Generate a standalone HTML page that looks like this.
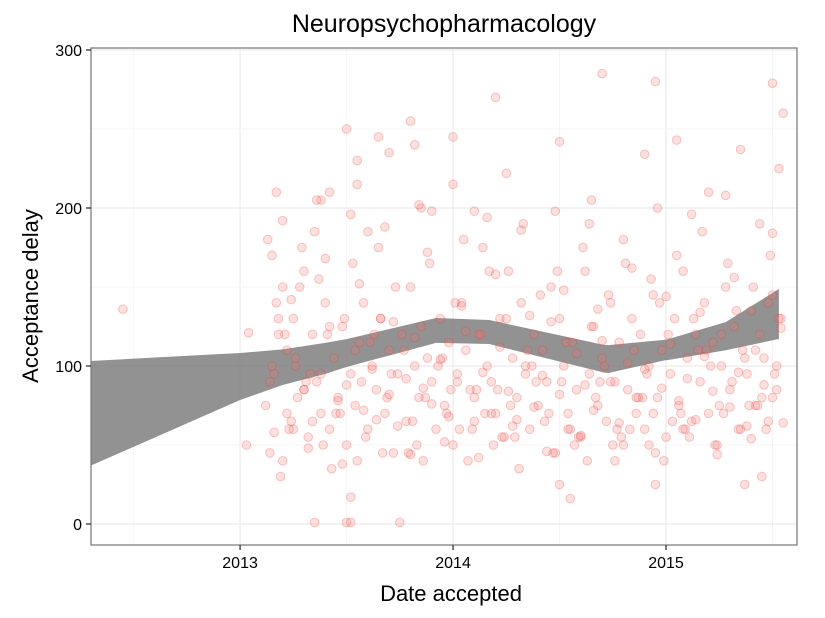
<!DOCTYPE html>
<html><head><meta charset="utf-8"><style>
body{margin:0;background:#fff}
svg{display:block;font-family:"Liberation Sans",sans-serif}
</style></head><body>
<svg id="chart" width="825" height="618">
<rect width="825" height="618" fill="#fff"/>
<text x="444" y="32" font-size="25" text-anchor="middle" fill="#000">Neuropsychopharmacology</text>
<text x="451" y="601" font-size="22" text-anchor="middle">Date accepted</text>
<text transform="translate(38,296) rotate(-90)" font-size="22" text-anchor="middle">Acceptance delay</text>
<g id="grid"></g><g id="ribbon"></g><g id="pts"></g><g id="axes"></g>
</svg>
<script>
const xTicks=[2013,2014,2015];
const yTicks=[0,100,200,300];
const ribX=[2012.30,2013.0,2013.2,2013.4,2013.5,2013.92,2014.17,2014.71,2014.73,2014.99,2015.01,2015.28,2015.53];
const ribUpper=[103.2,108.2,110.5,114.6,117,130.4,129.1,113.3,113.2,116.5,117,127.8,148.7];
const ribLower=[37,78.5,88,95,99.4,114.6,113.9,95.8,95.6,103.5,103.8,110,117.1];
const dates=[2012.45,2013.03,2013.04,2013.15,2013.17,2013.2,2013.25,2013.3,2013.35,2013.38,2013.42,2013.5,2013.55,2013.55,2013.6,2013.65,2013.7,2013.8,2013.82,2013.85,2013.9,2014.0,2014.1,2014.2,2014.25,2014.5,2014.65,2014.7,2014.9,2014.95,2015.05,2015.2,2015.35,2015.5,2015.55,2015.53,2013.35,2013.5,2013.52,2013.75,2013.52,2014.55,2014.5,2015.37,2014.95,2015.45,
2013.12,2013.14,2013.16,2013.18,2013.2,2013.22,2013.24,2013.26,2013.28,2013.3,2013.32,2013.34,2013.36,2013.38,2013.4,2013.42,2013.44,2013.46,2013.48,2013.5,2013.52,2013.54,2013.56,2013.58,2013.6,2013.62,2013.64,2013.66,2013.68,2013.7,2013.72,2013.74,2013.76,2013.78,2013.8,2013.82,2013.84,2013.86,2013.88,2013.9,2013.92,2013.94,2013.96,2013.98,2014.0,2014.02,2014.04,2014.06,2014.08,2014.1,2014.12,2014.14,2014.16,2014.18,2014.2,2014.22,2014.24,2014.26,2014.28,2014.3,2014.32,2014.34,2014.36,2014.38,2014.4,2014.42,2014.44,2014.46,2014.48,2014.5,2014.52,2014.54,2014.56,2014.58,2014.6,2014.62,2014.64,2014.66,2014.68,2014.7,2014.72,2014.74,2014.76,2014.78,2014.8,2014.82,2014.84,2014.86,2014.88,2014.9,2014.92,2014.94,2014.96,2014.98,2015.0,2015.02,2015.04,2015.06,2015.08,2015.1,2015.12,2015.14,2015.16,2015.18,2015.2,2015.22,2015.24,2015.26,2015.28,2015.3,2015.32,2015.34,2015.36,2015.38,2015.4,2015.42,2015.44,2015.46,2015.48,2015.5,2015.52,2015.54,
2013.13,2013.17,2013.21,2013.25,2013.29,2013.33,2013.37,2013.41,2013.45,2013.49,2013.53,2013.57,2013.61,2013.65,2013.69,2013.73,2013.77,2013.81,2013.85,2013.89,2013.93,2013.97,2014.01,2014.05,2014.09,2014.13,2014.17,2014.21,2014.25,2014.29,2014.33,2014.37,2014.41,2014.45,2014.49,2014.53,2014.57,2014.61,2014.65,2014.69,2014.73,2014.77,2014.81,2014.85,2014.89,2014.93,2014.97,2015.01,2015.05,2015.09,2015.13,2015.17,2015.21,2015.25,2015.29,2015.33,2015.37,2015.41,2015.45,2015.49,2015.53,
2013.15,2013.23,2013.31,2013.39,2013.47,2013.55,2013.63,2013.71,2013.79,2013.87,2013.95,2014.03,2014.11,2014.19,2014.27,2014.35,2014.43,2014.51,2014.59,2014.67,2014.75,2014.83,2014.91,2014.99,2015.07,2015.15,2015.23,2015.31,2015.39,2015.47,2015.52,
2013.19,2013.27,2013.43,2013.59,2013.67,2013.83,2013.99,2014.07,2014.15,2014.23,2014.31,2014.39,2014.47,2014.55,2014.63,2014.71,2014.79,2014.87,2014.95,2015.03,2015.11,2015.19,2015.27,2015.35,2015.43,2015.51,
2013.14,2013.18,2013.22,2013.26,2013.3,2013.34,2013.38,2013.42,2013.46,2013.5,2013.54,2013.58,2013.62,2013.66,2013.7,2013.74,2013.78,2013.82,2013.86,2013.9,2013.94,2013.98,2014.02,2014.06,2014.1,2014.14,2014.18,2014.22,2014.26,2014.3,2014.34,2014.38,2014.42,2014.46,2014.5,2014.54,2014.58,2014.62,2014.66,2014.7,2014.74,2014.78,2014.82,2014.86,2014.9,2014.94,2014.98,2015.02,2015.06,2015.1,2015.14,2015.18,2015.22,2015.26,2015.3,2015.34,2015.38,2015.42,2015.46,2015.5,2015.54,
2013.16,2013.24,2013.32,2013.4,2013.48,2013.56,2013.64,2013.72,2013.8,2013.88,2013.96,2014.04,2014.12,2014.2,2014.28,2014.36,2014.44,2014.52,2014.6,2014.68,2014.76,2014.84,2014.92,2015.0,2015.08,2015.16,2015.24,2015.32,2015.4,2015.48,2015.55,
2013.2,2013.36,2013.52,2013.68,2013.84,2014.0,2014.16,2014.32,2014.48,2014.64,2014.8,2014.96,2015.12,2015.28,2015.44,2015.5];
const delays=[136,50,121,170,210,150,130,160,185,205,210,250,215,230,185,245,235,255,240,200,198,245,198,270,222,242,205,285,234,280,243,210,237,279,260,225,1,1,1,1,17,16,25,25,25,30,
75,45,95,130,40,110,65,100,150,85,55,120,90,70,140,60,105,80,125,50,95,75,115,140,60,100,85,130,70,110,45,95,120,65,150,100,80,40,105,90,60,130,75,115,50,95,140,110,85,65,120,175,100,90,70,130,55,160,105,80,140,95,60,120,75,110,90,150,45,130,100,70,115,85,55,160,95,125,75,105,65,140,90,115,50,85,130,70,120,60,100,145,80,110,55,95,130,75,160,105,65,120,90,140,70,115,50,100,150,85,125,60,110,95,135,75,120,105,65,145,85,130,
180,140,120,60,175,95,155,120,70,130,165,90,115,175,80,150,110,65,125,165,100,70,140,180,60,120,160,85,130,55,190,100,145,70,160,115,50,175,125,90,145,60,165,110,80,155,140,120,170,60,130,185,100,75,165,135,105,150,80,170,130,
100,60,90,50,70,40,120,95,45,80,105,60,85,50,75,110,65,90,55,80,50,60,95,40,70,110,50,90,75,60,100,
30,80,35,55,45,50,85,40,70,55,35,90,45,60,40,100,55,80,45,65,55,110,70,60,75,95,
90,120,70,105,85,65,95,125,78,88,110,72,98,130,82,62,92,118,86,76,104,68,90,122,80,96,70,112,84,66,100,74,94,128,82,60,108,88,72,116,90,64,102,80,98,70,86,114,78,92,66,106,84,120,74,96,62,110,88,80,124,
58,142,48,168,38,152,66,128,44,172,52,138,42,158,62,132,46,148,56,136,40,162,50,144,60,134,44,156,54,140,64,
192,205,196,188,202,215,194,186,198,190,180,200,196,208,190,184];
const X0=91,X1=797,D0=2012.30,D1=2015.615,Y0=524,YS=1.58;
const sx=d=>X0+(d-D0)/(D1-D0)*(X1-X0);
const sy=v=>Y0-v*YS;
const NS='http://www.w3.org/2000/svg';
function mk(t,a,p){const e=document.createElementNS(NS,t);for(const k in a)e.setAttribute(k,a[k]);p.appendChild(e);return e;}
const grid=document.getElementById('grid');
for(const t of xTicks){const l=mk('line',{x1:sx(t),x2:sx(t),y1:48,y2:545,stroke:'#ebebeb','stroke-width':1.2},grid);


const m=mk('line',{x1:sx(t+0.5),x2:sx(t+0.5),y1:48,y2:545,stroke:'#f5f5f5','stroke-width':1},grid);

}
const mm=mk('line',{x1:sx(2012.5),x2:sx(2012.5),y1:48,y2:545,stroke:'#f5f5f5'},grid);


for(const t of yTicks){const l=mk('line',{x1:91,x2:797,y1:sy(t),y2:sy(t),stroke:'#ebebeb','stroke-width':1.2},grid);


if(t<300){const m=mk('line',{x1:91,x2:797,y1:sy(t+50),y2:sy(t+50),stroke:'#f5f5f5'},grid);

}}
let d='';ribX.forEach((x,i)=>{d+=(i?'L':'M')+sx(x)+','+sy(ribUpper[i]);});
for(let i=ribX.length-1;i>=0;i--)d+='L'+sx(ribX[i])+','+sy(ribLower[i]);
const rib=mk('path',{d:d+'Z',fill:'#7f7f7f','fill-opacity':0.85},document.getElementById('ribbon'));


const pts=document.getElementById('pts');
dates.forEach((dt,i)=>{const c=mk('circle',{cx:sx(dt),cy:sy(delays[i]),r:4.3,fill:'#f8766d','fill-opacity':0.22,stroke:'#e8383a','stroke-opacity':0.28,'stroke-width':1},pts);

});
const ax=document.getElementById('axes');
const fr=mk('rect',{x:91,y:48,width:706,height:497,fill:'none',stroke:'#7f7f7f','stroke-width':1.3},ax);


for(const t of yTicks){const k=mk('line',{x1:86,x2:91,y1:sy(t),y2:sy(t),stroke:'#333','stroke-width':1.3},ax);


const tx=mk('text',{x:82,y:sy(t)+6,'font-size':16,'text-anchor':'end',fill:'#000'},ax);tx.textContent=t;

}
for(const t of xTicks){const k=mk('line',{x1:sx(t),x2:sx(t),y1:545,y2:550,stroke:'#333','stroke-width':1.3},ax);


const tx=mk('text',{x:sx(t),y:568,'font-size':16,'text-anchor':'middle',fill:'#000'},ax);tx.textContent=t;

}
</script>
</body></html>
